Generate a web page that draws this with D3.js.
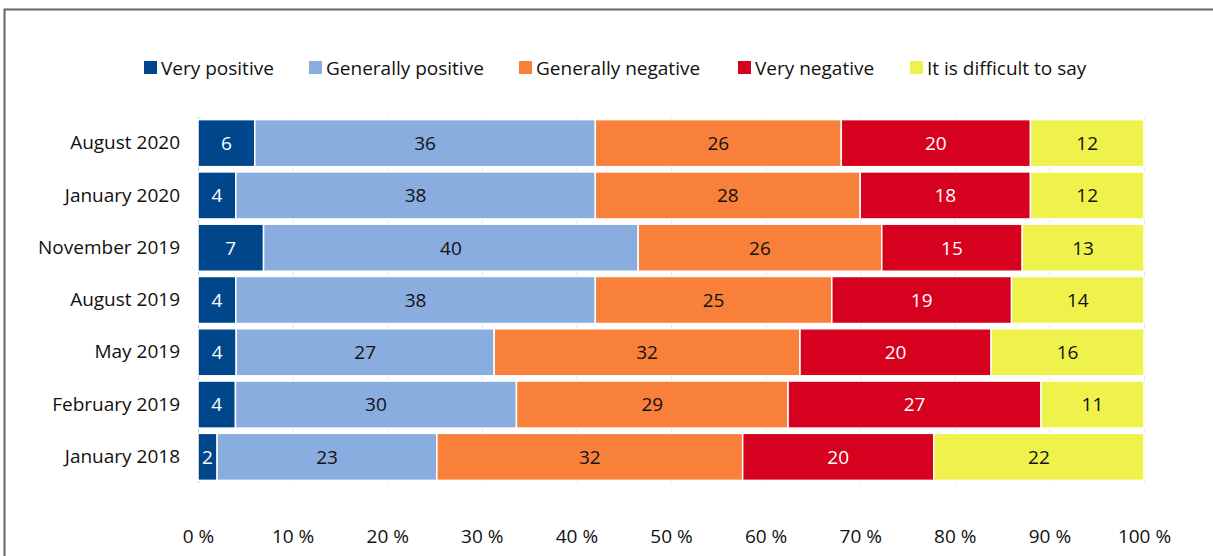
<!DOCTYPE html>
<html>
<head>
<meta charset="utf-8">
<script src="https://cdn.jsdelivr.net/npm/d3@7"></script>
<style>
  body { margin: 0; background: #fff; }
  svg { display: block; font-family: "Open Sans", sans-serif; }
</style>
</head>
<body>
<div id="chart"></div>
<script>
// chart data
const periods = ['August 2020', 'January 2020', 'November 2019', 'August 2019', 'May 2019', 'February 2019', 'January 2018']
const series = ['Very positive', 'Generally positive', 'Generally negative', 'Very negative', 'It is difficult to say']
const veryPositive = [6, 4, 7, 4, 4, 4, 2]
const generallyPositive = [36, 38, 40, 38, 27, 30, 23]
const generallyNegative = [26, 28, 26, 25, 32, 29, 32]
const veryNegative = [20, 18, 15, 19, 20, 27, 20]
const difficult = [12, 12, 13, 14, 16, 11, 22]
const xTicks = [0, 10, 20, 30, 40, 50, 60, 70, 80, 90, 100]

const colors = ['#00468B', '#8AADE0', '#F9803B', '#D6001F', '#EFF24B']
const labelColors = ['#fff', '#111', '#111', '#fff', '#111']

const width = 1213
const height = 556
const margin = {left: 198, right: 69, top: 117, bottom: 73}
const fontSize = 19

// table for d3.stack, each row normalised to 100 %
const table = periods.map(function(p, i) {
  const vals = [veryPositive[i], generallyPositive[i], generallyNegative[i], veryNegative[i], difficult[i]]
  const total = d3.sum(vals)
  const row = {period: p}
  series.forEach(function(s, j) {
    row[s] = vals[j]
    row[s + '_n'] = vals[j] / total * 100
  })
  return row
})

const stacked = d3.stack()
  .keys(series.map(s => s + '_n'))(table)

const svg = d3.select('#chart')
  .append('svg')
  .attr('width', width)
  .attr('height', height)

// outer frame
svg.append('path')
  .attr('d', 'M4.5,' + height + 'V9.5H' + width)
  .attr('fill', 'none')
  .attr('stroke', '#666')
  .attr('stroke-width', 2)

const xScale = d3.scaleLinear()
  .domain([0, 100])
  .range([margin.left, width - margin.right])

const yScale = d3.scaleBand()
  .domain(periods)
  .range([margin.top, height - margin.bottom])
  .paddingInner(0.1)
  .paddingOuter(0.05)

// gridlines
svg.append('g')
  .selectAll('line')
  .data(xTicks)
  .enter()
  .append('line')
  .attr('x1', d => xScale(d) + 0.5)
  .attr('x2', d => xScale(d) + 0.5)
  .attr('y1', margin.top)
  .attr('y2', height - margin.bottom)
  .attr('stroke', d => d === 0 ? '#c8c8c8' : '#e6e6e6')
  .attr('stroke-width', 1)

// bars
const groups = svg.append('g')
  .selectAll('g')
  .data(stacked)
  .enter()
  .append('g')
  .attr('fill', (d, i) => colors[i])

groups.selectAll('rect')
  .data(d => d)
  .enter()
  .append('rect')
  .attr('x', d => xScale(d[0]))
  .attr('y', d => yScale(d.data.period))
  .attr('width', d => xScale(d[1]) - xScale(d[0]))
  .attr('height', yScale.bandwidth())
  .attr('stroke', '#fff')
  .attr('stroke-width', 1.5)

// value labels
stacked.forEach(function(layer, i) {
  const key = series[i]
  svg.append('g')
    .selectAll('text')
    .data(layer)
    .enter()
    .append('text')
    .attr('x', d => (xScale(d[0]) + xScale(d[1])) / 2)
    .attr('y', d => yScale(d.data.period) + yScale.bandwidth() / 2)
    .attr('dy', '0.36em')
    .attr('text-anchor', 'middle')
    .attr('font-size', fontSize)
    .attr('fill', labelColors[i])
    .text(d => d.data[key])
})

// y axis labels
const yAxis = d3.axisLeft(yScale).tickSize(0).tickPadding(18)
const yg = svg.append('g')
  .attr('transform', 'translate(' + margin.left + ',0)')
  .call(yAxis)
yg.select('.domain').remove()
yg.selectAll('text')
  .attr('font-size', fontSize)
  .attr('font-family', '"Open Sans", sans-serif')
  .attr('fill', '#111')

// x axis
const xAxis = d3.axisBottom(xScale)
  .tickValues(xTicks)
  .tickSize(0)
  .tickPadding(0)
  .tickFormat(d => d + ' %')
const xg = svg.append('g')
  .attr('transform', 'translate(0,' + (height - margin.bottom) + ')')
  .call(xAxis)
xg.select('.domain').remove()
xg.selectAll('text')
  .attr('y', 0)
  .attr('dy', '60px')
  .attr('font-size', fontSize)
  .attr('font-family', '"Open Sans", sans-serif')
  .attr('fill', '#111')

// legend
const legendX = [144, 309, 519, 738, 910]
const legend = svg.append('g')
  .selectAll('g')
  .data(series)
  .enter()
  .append('g')
  .attr('transform', (d, i) => 'translate(' + legendX[i] + ',61)')
legend.append('rect')
  .attr('width', 13)
  .attr('height', 13)
  .attr('fill', (d, i) => colors[i])
legend.append('text')
  .attr('x', 17)
  .attr('y', 7)
  .attr('dy', '0.36em')
  .attr('font-size', fontSize)
  .attr('fill', '#111')
  .text(d => d)
</script>
</body>
</html>
